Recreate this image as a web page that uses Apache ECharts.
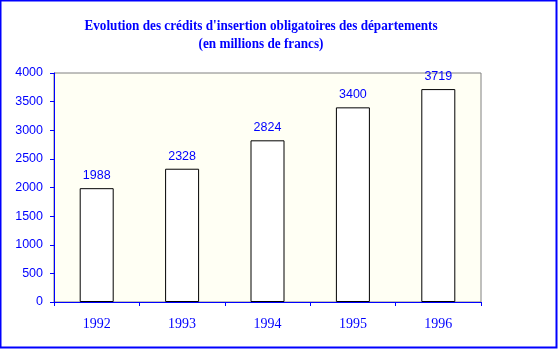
<!DOCTYPE html>
<html>
<head>
<meta charset="utf-8">
<script src="https://cdn.jsdelivr.net/npm/echarts@6/dist/echarts.min.js"></script>
<style>
  html, body { margin: 0; padding: 0; background: #fff; }
  #chart { width: 558px; height: 349px; }
</style>
</head>
<body>
<div id="chart"></div>
<script>
// Crédits d'insertion obligatoires des départements, 1992-1996 (MF)
const years = ['1992', '1993', '1994', '1995', '1996'];
const credits = [1988, 2328, 2824, 3400, 3719];
const yTicks = [0, 500, 1000, 1500, 2000, 2500, 3000, 3500, 4000];
const titleLines = [
  "Evolution des crédits d'insertion obligatoires des départements",
  '(en millions de francs)'
];

const BLUE = '#0000FF';
const SERIF = '"Liberation Serif", "Times New Roman", serif';
const SANS = '"Liberation Sans", Arial, sans-serif';
const chart = echarts.init(document.getElementById('chart'), null, { renderer: 'canvas' });

// condensed bold serif heading, two centred lines
const titleText = titleLines.map((line, i) => ({
  type: 'text',
  x: 261,
  y: 26 + i * 18,
  scaleX: 0.88,
  silent: true,
  style: {
    text: line,
    fill: BLUE,
    font: 'bold 15px ' + SERIF,
    textAlign: 'center',
    textVerticalAlign: 'middle'
  }
}));

chart.setOption({
  animation: false,
  backgroundColor: '#FFFFFF',
  graphic: titleText.concat([{
    type: 'rect',
    shape: { x: 0.5, y: 0.5, width: 556, height: 347 },
    style: { fill: null, stroke: BLUE, lineWidth: 2 },
    silent: true,
    z: 100
  }]),
  grid: {
    left: 54,
    right: 77,
    top: 73,
    bottom: 47,
    show: true,
    backgroundColor: '#FFFFF4',
    borderColor: '#808080',
    borderWidth: 1
  },
  xAxis: {
    type: 'category',
    data: years,
    z: 5,
    axisLine: { lineStyle: { color: BLUE, width: 1 } },
    axisTick: { show: true, length: 4, lineStyle: { color: BLUE } },
    axisLabel: {
      color: BLUE,
      fontFamily: SERIF,
      fontSize: 14,
      margin: 15
    },
    splitLine: { show: false }
  },
  yAxis: {
    type: 'value',
    min: yTicks[0],
    max: yTicks[yTicks.length - 1],
    interval: 500,
    z: 5,
    axisLine: { show: true, lineStyle: { color: BLUE, width: 1 } },
    axisTick: { show: true, length: 4, lineStyle: { color: BLUE } },
    axisLabel: {
      color: BLUE,
      fontFamily: SANS,
      fontSize: 12.5,
      margin: 11,
      formatter: (v) => String(v)
    },
    splitLine: { show: false }
  },
  series: [{
    type: 'bar',
    data: credits,
    barWidth: 34,
    itemStyle: { color: '#FFFFFF', borderColor: '#000000', borderWidth: 1 },
    label: {
      show: true,
      position: 'top',
      distance: 6,
      color: BLUE,
      fontFamily: SANS,
      fontSize: 12.5
    }
  }]
});
</script>
</body>
</html>
